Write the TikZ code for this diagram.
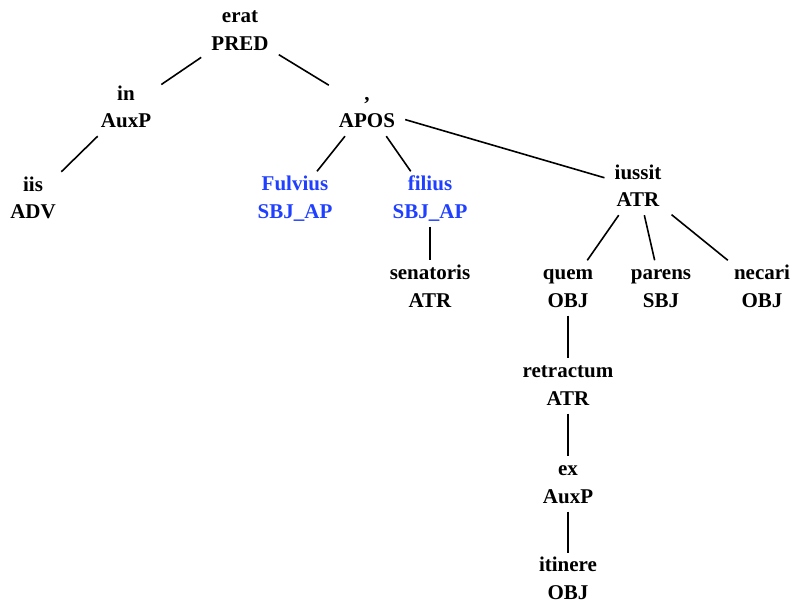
\documentclass[tikz,border=0pt]{standalone}
\usepackage{fontspec}
\setmainfont{Liberation Serif}
\definecolor{apblue}{RGB}{32,64,255}
\newcommand\tn[2]{\strut#1\\\strut#2}
\newcommand\tnlast[2]{\strut#1\\\rule[-2pt]{0pt}{19.25pt}#2}
\tikzset{
  tnode/.style={align=center, inner xsep=10pt, inner ysep=0pt,
    font=\fontsize{21}{27.5}\selectfont\bfseries},
  apnode/.style={tnode, text=apblue},
  edge/.style={line width=1.6pt}
}
\begin{document}
\begin{tikzpicture}[x=1pt,y=-1pt]
\useasboundingbox (0,0) rectangle (793,604);
\node[tnode] (erat) at (240,31) {\tn{erat}{PRED}};
\node[tnode] (in) at (126,108.5) {\tn{in}{AuxP}};
\node[tnode] (iis) at (33,199.5) {\tn{iis}{ADV}};
\node[tnode] (comma) at (367,108.5) {\tn{,}{APOS}};
\node[apnode] (fulvius) at (295,199) {\tn{Fulvius}{SBJ\_AP}};
\node[apnode] (filius) at (430,199) {\tn{filius}{SBJ\_AP}};
\node[tnode] (senatoris) at (430,288) {\tn{senatoris}{ATR}};
\node[tnode] (iussit) at (638,187.5) {\tn{iussit}{ATR}};
\node[tnode] (quem) at (568,288) {\tn{quem}{OBJ}};
\node[tnode] (parens) at (661,288) {\tn{parens}{SBJ}};
\node[tnode] (necari) at (762,288) {\tn{necari}{OBJ}};
\node[tnode] (retractum) at (568,386) {\tn{retractum}{ATR}};
\node[tnode] (ex) at (568,484) {\tn{ex}{AuxP}};
\node[tnode, anchor=north] (itinere) at (568,552.5) {\tnlast{itinere}{OBJ}};
\draw[edge] (erat) -- (in);
\draw[edge] (erat) -- (comma);
\draw[edge] (in) -- (iis);
\draw[edge] (comma) -- (fulvius);
\draw[edge] (comma) -- (filius);
\draw[edge] (comma) -- (iussit);
\draw[edge] (filius) -- (senatoris);
\draw[edge] (iussit) -- (quem);
\draw[edge] (iussit) -- (parens);
\draw[edge] (iussit) -- (necari);
\draw[edge] (quem) -- (retractum);
\draw[edge] (retractum) -- (ex);
\draw[edge] (ex) -- (itinere);
\end{tikzpicture}
\end{document}
